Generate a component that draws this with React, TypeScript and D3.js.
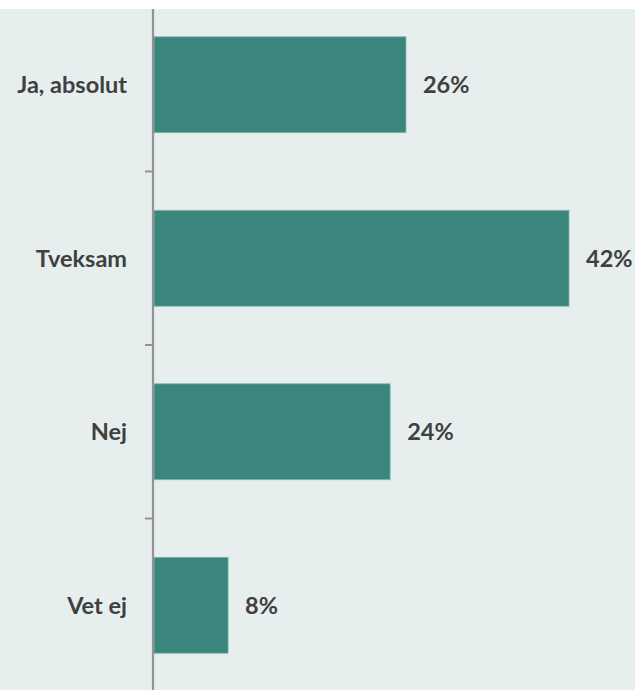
import React, { useEffect, useRef } from 'react';
import * as d3 from 'd3';

// chart values
const categories = ['Ja, absolut', 'Tveksam', 'Nej', 'Vet ej'];
const values = [25.5, 42, 23.9, 7.5];
const valueLabels = ['26%', '42%', '24%', '8%'];

const App = () => {
  const ref = useRef<SVGSVGElement | null>(null);

  useEffect(() => {
    document.body.style.margin = '0';
    const svg = d3.select(ref.current);
    svg.selectAll('*').remove();

    const width = 635, height = 690;
    const top = 9;
    const axisX = 153;
    const font = 'Lato, sans-serif';
    const fontSize = 23.5;

    // background
    svg.append('rect').attr('x', 0).attr('y', 0).attr('width', width).attr('height', height).attr('fill', '#ffffff');
    svg.append('rect').attr('x', 0).attr('y', top).attr('width', width).attr('height', height - top).attr('fill', '#e6efee');

    const y = d3.scaleBand()
      .domain(categories)
      .range([-2, 692])
      .paddingInner(0.447)
      .paddingOuter(0.2235);

    const x = d3.scaleLinear().domain([0, 42]).range([axisX + 1, 569]);

    const g = svg.append('g');

    g.selectAll('rect.bar')
      .data(values)
      .enter()
      .append('rect')
      .attr('class', 'bar')
      .attr('x', x(0))
      .attr('y', (d, i) => y(categories[i])!)
      .attr('width', d => x(d) - x(0))
      .attr('height', y.bandwidth())
      .attr('fill', '#3a857e')
      .attr('stroke', '#86b9b2')
      .attr('stroke-width', 0.8);

    g.selectAll('text.val')
      .data(values)
      .enter()
      .append('text')
      .attr('class', 'val')
      .attr('x', d => x(d) + 17)
      .attr('y', (d, i) => y(categories[i])! + y.bandwidth() / 2)
      .attr('dy', '0.36em')
      .attr('font-family', font)
      .attr('font-weight', 700)
      .attr('font-size', fontSize)
      .attr('fill', '#404040')
      .text((d, i) => valueLabels[i]);

    // category labels
    g.selectAll('text.cat')
      .data(categories)
      .enter()
      .append('text')
      .attr('class', 'cat')
      .attr('x', 127)
      .attr('y', d => y(d)! + y.bandwidth() / 2)
      .attr('dy', '0.36em')
      .attr('text-anchor', 'end')
      .attr('font-family', font)
      .attr('font-weight', 700)
      .attr('font-size', fontSize)
      .attr('fill', '#404040')
      .text(d => d);

    // axis line and ticks between categories
    const step = y.step();
    const ticks = d3.range(1, categories.length).map(i => -2 + i * step);
    g.append('line')
      .attr('x1', axisX).attr('x2', axisX)
      .attr('y1', top).attr('y2', height)
      .attr('stroke', '#939393').attr('stroke-width', 2.2);
    g.selectAll('line.tick')
      .data(ticks)
      .enter()
      .append('line')
      .attr('class', 'tick')
      .attr('x1', 145).attr('x2', axisX)
      .attr('y1', d => d).attr('y2', d => d)
      .attr('stroke', '#939393').attr('stroke-width', 2);
  }, []);

  return (
    <div style={{ position: 'absolute', left: 0, top: 0 }}>
      <svg ref={ref} width={635} height={690} style={{ display: 'block' }} />
    </div>
  );
};

export default App;
